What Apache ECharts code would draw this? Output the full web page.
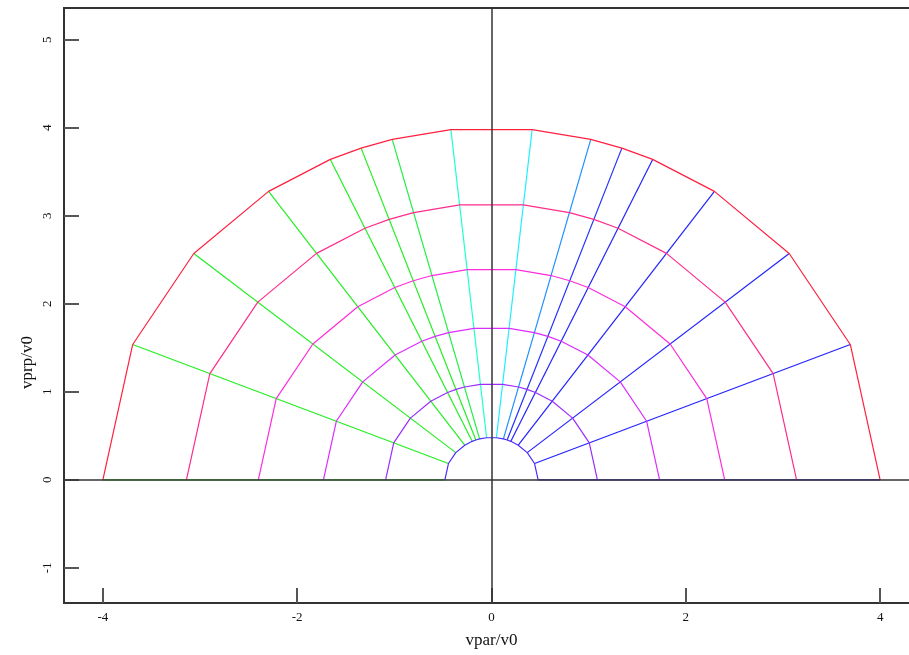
<!DOCTYPE html>
<html><head><meta charset="utf-8">
<script src="https://cdn.jsdelivr.net/npm/echarts@6/dist/echarts.min.js"></script>
<style>html,body{margin:0;padding:0;background:#fff}#c{width:909px;height:655px}</style>
</head><body><div id="c"></div>
<script>
// energy rings (radius in v/v0)
const radii = [0.48, 1.09, 1.73, 2.40, 3.14, 4.0];
const ringColors = ['#4a2cff', '#9a2cff', '#dc2cff', '#ff2cdc', '#ff2c8c', '#ff2040'];
// pitch angles (degrees) on the vpar>0 side; mirrored for vpar<0
const rightAngles = [0, 22.6, 40.0, 55.0, 65.5, 70.4, 75.2, 84.0];
const rightSpokeColors = ['#2222ff', '#2222ff', '#2222ff', '#2222ff', '#2222ff', '#2230ff', '#2290ff', '#22eeff'];
const leftSpokeColors = ['#22ee22', '#22ee22', '#22ee22', '#22ee22', '#22ee22', '#22ee22', '#22ee44', '#22ffcc'];
const xTicks = [-4, -2, 0, 2, 4];
const yTicks = [-1, 0, 1, 2, 3, 4, 5];

const leftAngles = rightAngles.map(a => 180 - a);
const allAngles = rightAngles.concat(leftAngles.slice().reverse());
const rad = d => d * Math.PI / 180;
const pt = (r, a) => [r * Math.cos(rad(a)), r * Math.sin(rad(a))];

const series = [];
const rIn = radii[0], rOut = radii[radii.length - 1];
rightAngles.forEach((a, i) => {
  series.push({type: 'line', showSymbol: false, silent: true, z: 2,
    data: [pt(rIn, a), pt(rOut, a)], lineStyle: {color: rightSpokeColors[i], width: 1.2}});
});
leftAngles.forEach((a, i) => {
  series.push({type: 'line', showSymbol: false, silent: true, z: 2,
    data: [pt(rIn, a), pt(rOut, a)], lineStyle: {color: leftSpokeColors[i], width: 1.2}});
});
radii.forEach((r, i) => {
  series.push({type: 'line', showSymbol: false, silent: true, z: 3,
    data: allAngles.map(a => pt(r, a)), lineStyle: {color: ringColors[i], width: 1.2}});
});
series.push({type: 'line', data: [], silent: true, z: 6,
  markLine: {silent: true, symbol: 'none', animation: false, label: {show: false},
    lineStyle: {color: '#333', width: 1.5, type: 'solid'},
    data: [{xAxis: 0}, {yAxis: 0}]}});

const font = 'Liberation Serif';
const chart = echarts.init(document.getElementById('c'));
chart.setOption({
  animation: false,
  grid: {left: 64, top: 8, width: 855, bottom: 52, show: true, borderColor: '#333', borderWidth: 2,
    backgroundColor: 'transparent', outerBoundsMode: 'none', containLabel: false},
  xAxis: {type: 'value', min: -4.4, max: 4.4,
    name: 'vpar/v0', nameLocation: 'middle', nameGap: 29,
    nameTextStyle: {fontFamily: font, fontSize: 17, color: '#111'},
    axisLine: {show: false, onZero: false},
    axisTick: {show: true, inside: true, length: 15, customValues: xTicks, lineStyle: {color: '#555', width: 2}},
    axisLabel: {customValues: xTicks, fontFamily: font, fontSize: 13, color: '#111', margin: 8},
    splitLine: {show: false}},
  yAxis: {type: 'value', min: -1.4, max: 5.36,
    axisLine: {show: false, onZero: false},
    axisTick: {show: true, inside: true, length: 15, customValues: yTicks, lineStyle: {color: '#555', width: 2}},
    axisLabel: {customValues: yTicks, rotate: 90, fontFamily: font, fontSize: 13, color: '#111', margin: 10},
    splitLine: {show: false}},
  graphic: [{type: 'text', left: 19, top: 336, rotation: Math.PI / 2,
    style: {text: 'vprp/v0', fontFamily: font, fontSize: 17, fill: '#111', align: 'center', verticalAlign: 'middle'}}],
  series: series
});
</script></body></html>
